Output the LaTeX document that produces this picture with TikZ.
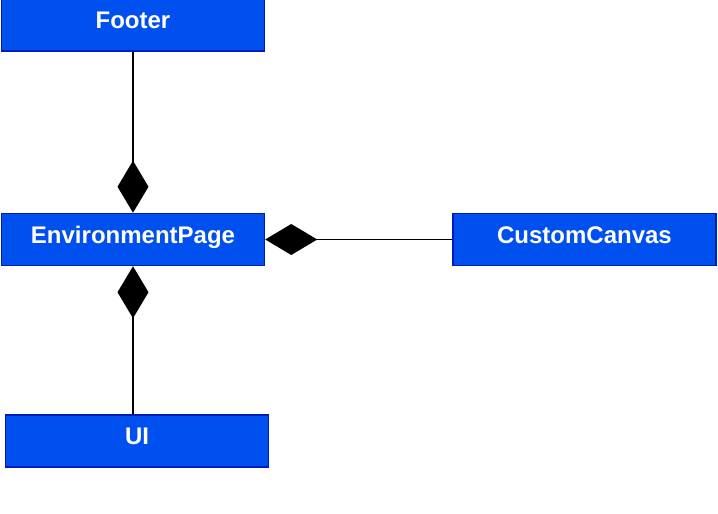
\documentclass[tikz,border=0pt]{standalone}
\usepackage{fontspec}
\setmainfont{Liberation Sans}
\usetikzlibrary{arrows.meta,positioning}
\definecolor{boxfill}{HTML}{0050EF}
\definecolor{boxline}{HTML}{001DBC}

\begin{document}
\begin{tikzpicture}[
            classbox/.style={rectangle, draw=boxline, fill=boxfill, line width=1.5pt, minimum width=263pt, minimum height=52pt, text=white, font=\fontsize{24}{28}\selectfont\bfseries, text height=17pt, text depth=9pt, inner sep=0pt},
            comp/.style={-{Diamond[length=52pt, width=31pt]}, line width=1.5pt}
        ]
            \useasboundingbox (0,0) rectangle (718pt,514pt);

            % --- centre ---
            \node[classbox] (env) at (133pt,274.5pt) {EnvironmentPage};

            % --- around it ---
            \node[classbox, above=161pt of env] (footer) {Footer};
            \node[classbox, right=187pt of env] (canvas) {CustomCanvas};
            \node[classbox, below=148pt of env, xshift=4pt] (ui) {UI};

            % composition links
            \draw[comp] (footer) -- (env);
            \draw[comp] (canvas) -- (env);
            \draw[comp] (ui.north -| env) -- (env);

        \end{tikzpicture}
\end{document}
